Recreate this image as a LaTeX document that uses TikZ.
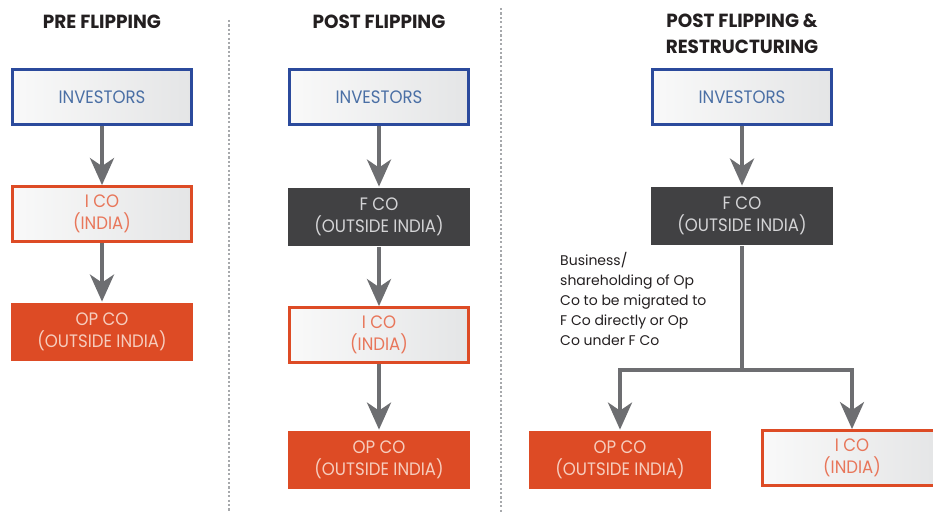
\documentclass[tikz,border=0pt]{standalone}
\usepackage{fontspec}
\setmainfont{Poppins}
\newfontfamily\boxfont[FakeStretch=0.92]{Poppins}
\newfontfamily\titlefont[FakeStretch=0.97]{Poppins}
\usetikzlibrary{arrows.meta}
\definecolor{cblue}{HTML}{2B4A9C}
\definecolor{ctblue}{HTML}{4A6FA5}
\definecolor{corange}{HTML}{DD4B25}
\definecolor{ctorange}{HTML}{E8765A}
\definecolor{ctpink}{HTML}{F6CDBE}
\definecolor{cdark}{HTML}{414143}
\definecolor{ctgray}{HTML}{D4D4D6}
\definecolor{carrow}{HTML}{6D6E71}
\definecolor{lgL}{HTML}{F9F9F9}
\definecolor{lgR}{HTML}{E4E5E6}
\definecolor{csep}{HTML}{A7A9AC}
\definecolor{ctext}{HTML}{231F20}
\begin{document}
\begin{tikzpicture}[x=1pt,y=-1pt,
  box/.style={minimum width=179pt, minimum height=55pt, inner sep=0pt, align=center,
    font=\boxfont\fontsize{18}{22}\selectfont, line width=2.8pt},
  lightbox/.style={box, draw, left color=lgL, right color=lgR},
  invbox/.style={lightbox, draw=cblue, text=ctblue},
  icobox/.style={lightbox, draw=corange, text=ctorange},
  opbox/.style={box, fill=corange, text=ctpink, minimum width=182pt, minimum height=58pt},
  fcobox/.style={box, fill=cdark, text=ctgray, minimum width=182pt, minimum height=58pt},
  arr/.style={draw=carrow, line width=4pt, -{Stealth[length=27pt,width=24pt,inset=8pt]}},
  conn/.style={draw=carrow, line width=4pt},
  sep/.style={draw=csep, line width=1.6pt, dash pattern=on 2.2pt off 2.2pt},
  title/.style={font=\titlefont\bfseries\fontsize{19}{26}\selectfont, text=ctext, align=center, inner sep=0pt},
  note/.style={font=\fontsize{14}{20}\selectfont, text=ctext, align=left, inner sep=0pt, anchor=north west}
]
\useasboundingbox (0,0) rectangle (933,513);

% separators
\draw[sep] (229,20) -- (229,513);
\draw[sep] (501,8) -- (501,513);

% titles
\node[title] (t1) at (102,22) {PRE FLIPPING};
\node[title] (t2) at (379,22) {POST FLIPPING};
\node[title] (t3) at (742,34) {POST FLIPPING \&\\RESTRUCTURING};

% column 1
\node[invbox] (inv1) at (102,97) {INVESTORS};
\node[icobox] (ico1) at (102,214) {I CO\\(INDIA)};
\node[opbox] (op1) at (102,332) {OP CO\\(OUTSIDE INDIA)};
\draw[arr] (inv1) -- (ico1);
\draw[arr] (ico1) -- (op1);

% column 2
\node[invbox] (inv2) at (379,97) {INVESTORS};
\node[fcobox] (fco2) at (379,217) {F CO\\(OUTSIDE INDIA)};
\node[icobox] (ico2) at (379,335) {I CO\\(INDIA)};
\node[opbox] (op2) at (379,460) {OP CO\\(OUTSIDE INDIA)};
\draw[arr] (inv2) -- (fco2);
\draw[arr] (fco2) -- (ico2);
\draw[arr] (ico2) -- (op2);

% column 3
\node[invbox] (inv3) at (742,97) {INVESTORS};
\node[fcobox] (fco3) at (742,216) {F CO\\(OUTSIDE INDIA)};
\node[opbox] (op3) at (620,460) {OP CO\\(OUTSIDE INDIA)};
\node[icobox] (ico3) at (852,458) {I CO\\(INDIA)};
\draw[arr] (inv3) -- (fco3);
\coordinate (br) at (742,370);
\draw[conn] (fco3) -- (br);
\draw[arr] (br) -| (op3);
\draw[arr] (br) -| (ico3);

\node[note] (nt) at (560,252) {Business/\\shareholding of Op\\Co to be migrated to\\F Co directly or Op\\Co under F Co};
\end{tikzpicture}
\end{document}
